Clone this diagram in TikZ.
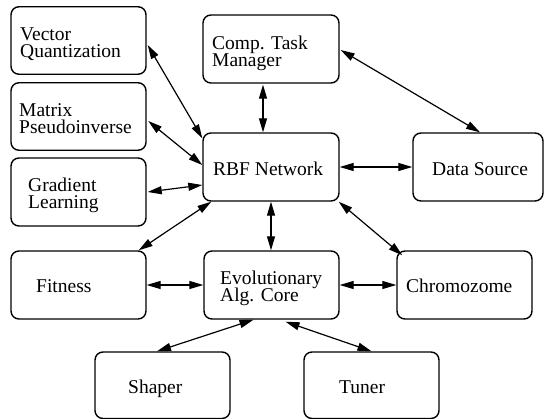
\documentclass[tikz,border=0pt]{standalone}
\usepackage{fontspec}
\setmainfont{Liberation Serif}
\usetikzlibrary{arrows.meta,calc}
\newcommand\mylblfont{\fontsize{19.5}{16.5}\selectfont\lineskiplimit=-30pt\relax\lineskip=0pt\relax}
\tikzset{
  box/.style={draw, line width=1.4pt, rounded corners=8pt, minimum width=135pt, minimum height=67.5pt, inner sep=0pt},
  lbl/.style={anchor=base west, inner sep=0pt, align=left, font=\mylblfont},
  link/.style={line width=1.2pt, {Triangle[length=14pt,width=8pt]}-{Triangle[length=14pt,width=8pt]}}
}
\begin{document}
\begin{tikzpicture}[x=1pt,y=-1pt]
\useasboundingbox (0,0) rectangle (544,419);
% boxes
\node[box] (vq) at (78.5,40.5) {};
\node[box] (mp) at (78.5,116.5) {};
\node[box, minimum height=68pt] (gl) at (78.5,192) {};
\node[box, minimum height=68pt] (fit) at (78.5,285) {};
\node[box, minimum width=136pt, minimum height=68pt] (comp) at (271,49) {};
\node[box, minimum width=136pt, minimum height=68pt] (rbf) at (271,167) {};
\node[box, minimum height=68pt] (evo) at (271.5,285) {};
\node[box, minimum width=130pt, minimum height=68pt] (ds) at (478,167) {};
\node[box, minimum height=68pt] (chr) at (464.5,285) {};
\node[box, minimum height=66.5pt] (shp) at (162.5,385.25) {};
\node[box, minimum height=66.5pt] (tun) at (371.5,385.25) {};
% labels (base = baseline of last line)
\node[lbl] (vqt) at (20,57.5) {Vector\\Quantization};
\node[lbl] (mpt) at (19,133.5) {Matrix\\Pseudoinverse};
\node[lbl] (glt) at (28,208.5) {Gradient\\Learning};
\node[lbl] (fitt) at (36,293) {Fitness};
\node[lbl] (compt) at (212,66.5) {Comp. Task\\Manager};
\node[lbl] (rbft) at (213,176) {RBF Network};
\node[lbl] (dst) at (432,176) {Data Source};
\node[lbl] (evot) at (220,301.5) {Evolutionary\\Alg. Core};
\node[lbl] (chrt) at (406,293) {Chromozome};
\node[lbl] (shpt) at (128,394) {Shaper};
\node[lbl] (tunt) at (339,394) {Tuner};
% connectors
\draw[link] ($(vq.east)+(1,4.5)$) -- ($(rbf.north west)+(0,6)$);
\draw[link] ($(mp.east)+(1.5,4.5)$) -- ($(rbf.west)+(0,-2)$);
\draw[link] ($(gl.east)+(1,0)$) -- ($(rbf.west)+(0,18)$);
\draw[link] ($(fit.north east)+(-8,0)$) -- ($(rbf.south west)+(9,0)$);
\draw[link] ($(comp.south)+(-8,1)$) -- ($(rbf.north)+(-8,0)$);
\draw[link] ($(comp.east)+(1,1)$) -- ($(ds.north)+(2,0)$);
\draw[link] (rbf.east) -- (ds.west);
\draw[link] (rbf.south) -- ($(evo.north)+(-0.5,0)$);
\draw[link] ($(rbf.south east)+(-1,0)$) -- ($(chr.north west)+(6,5)$);
\draw[link] (fit.east) -- (evo.west);
\draw[link] (evo.east) -- (chr.west);
\draw[link] ($(evo.south)+(-18,0)$) -- ($(shp.north)+(-5.5,0)$);
\draw[link] ($(evo.south)+(14,2)$) -- (tun.north);
\end{tikzpicture}
\end{document}
